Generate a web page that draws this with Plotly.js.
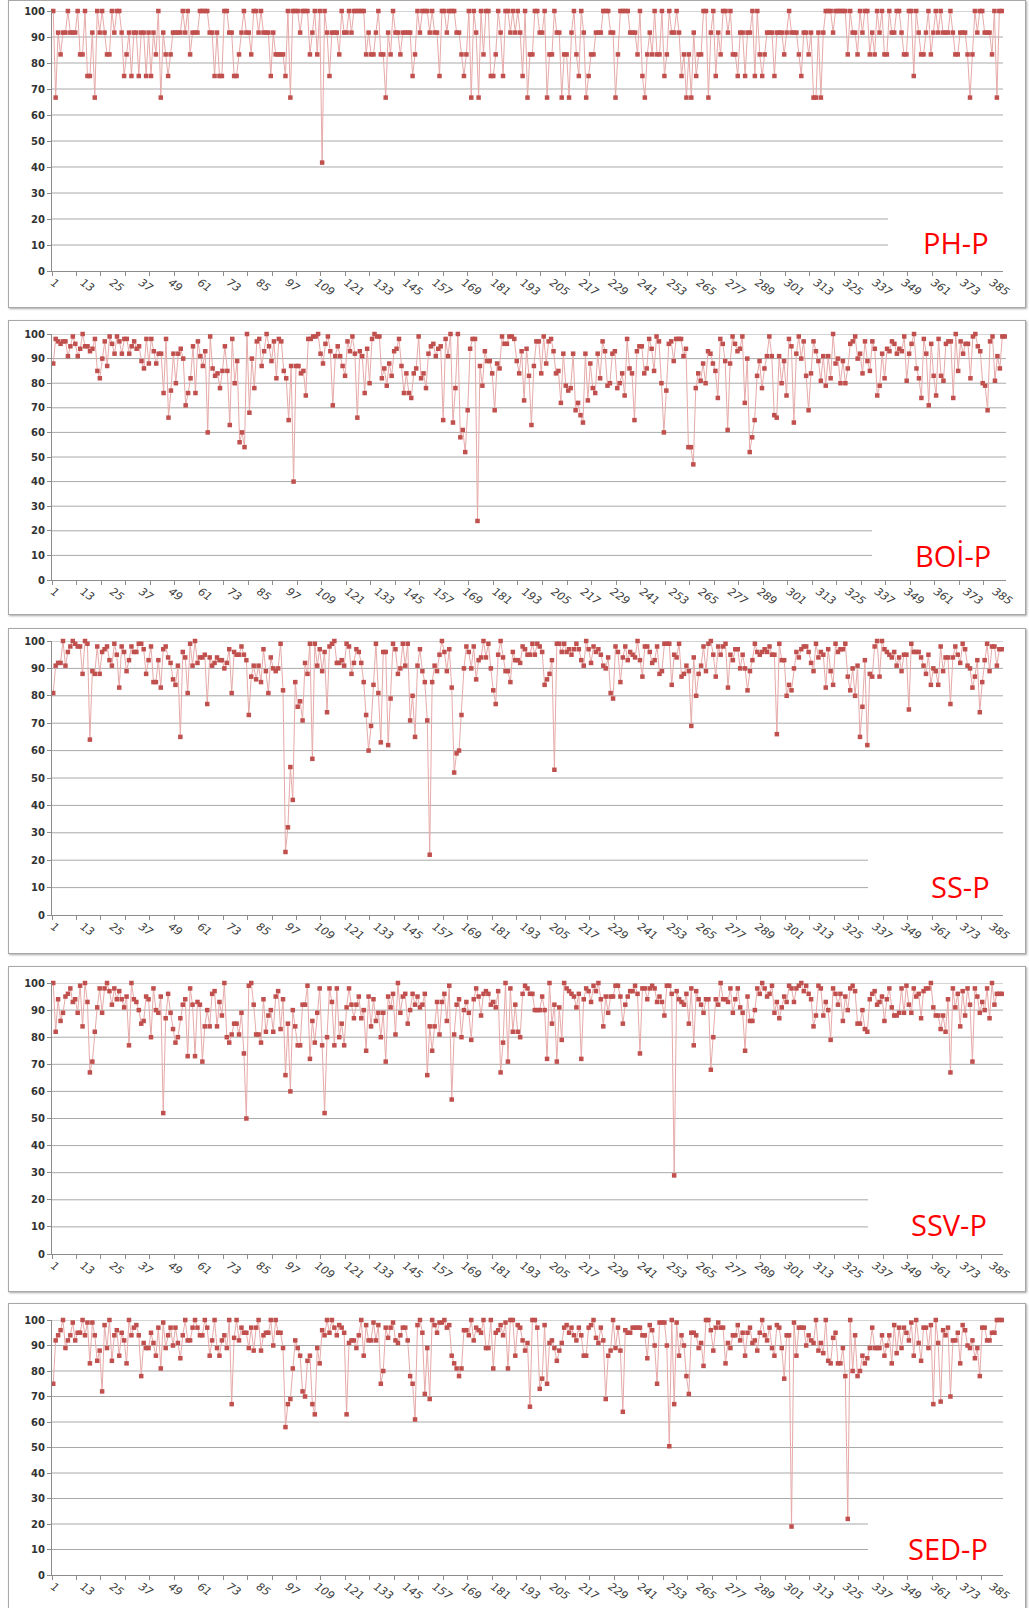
<!DOCTYPE html>
<html><head><meta charset="utf-8">
<script src="https://cdn.plot.ly/plotly-3.0.1.min.js"></script>
<style>
html,body{margin:0;padding:0;background:#fff;width:1029px;height:1608px;overflow:hidden;position:relative}
.frame{position:absolute;left:8px;width:1016px;border:1px solid #a8a8a8;box-shadow:1px 1px 2px rgba(0,0,0,0.35);background:#fff}
.plot{position:absolute;left:0;width:1029px}
</style></head><body>
<script>
// ---- data (values in %) ----
const phP = [
100,66.7,91.7,83.3,91.7,91.7,100,91.7,91.7,91.7,
100,83.3,83.3,100,75,75,91.7,66.7,100,91.7,
100,91.7,83.3,83.3,100,91.7,100,100,91.7,75,
83.3,91.7,75,91.7,91.7,75,91.7,91.7,75,91.7,
75,91.7,83.3,100,66.7,91.7,83.3,75,83.3,91.7,
91.7,91.7,91.7,100,91.7,100,83.3,91.7,91.7,91.7,
100,100,100,100,91.7,91.7,75,91.7,75,75,
100,100,91.7,91.7,75,75,83.3,91.7,100,91.7,
91.7,83.3,100,100,91.7,100,91.7,91.7,91.7,75,
91.7,83.3,83.3,83.3,83.3,75,100,66.7,100,100,
100,91.7,100,100,100,83.3,91.7,100,83.3,100,
41.7,100,91.7,75,91.7,91.7,91.7,83.3,100,91.7,
91.7,100,91.7,100,100,100,100,100,83.3,91.7,
83.3,83.3,91.7,100,83.3,83.3,66.7,91.7,83.3,100,
91.7,91.7,83.3,91.7,91.7,91.7,91.7,75,83.3,100,
91.7,100,100,100,91.7,100,91.7,91.7,75,100,
100,91.7,100,100,100,91.7,91.7,83.3,75,83.3,
100,66.7,100,91.7,66.7,100,83.3,100,100,75,
75,83.3,100,91.7,75,100,100,91.7,100,91.7,
100,91.7,75,100,66.7,83.3,83.3,100,100,91.7,
91.7,100,66.7,83.3,83.3,100,91.7,91.7,66.7,83.3,
83.3,66.7,91.7,100,83.3,75,100,91.7,66.7,75,
83.3,83.3,91.7,91.7,91.7,100,100,100,91.7,91.7,
66.7,83.3,100,100,100,100,91.7,91.7,91.7,83.3,
100,75,66.7,83.3,91.7,83.3,100,83.3,83.3,100,
75,83.3,100,91.7,91.7,100,91.7,75,83.3,66.7,
83.3,66.7,91.7,75,83.3,83.3,100,100,66.7,91.7,
100,75,91.7,83.3,100,100,91.7,100,83.3,83.3,
75,91.7,91.7,75,91.7,91.7,100,75,100,83.3,
75,83.3,91.7,91.7,91.7,75,91.7,91.7,91.7,83.3,
91.7,100,91.7,91.7,91.7,83.3,75,91.7,91.7,83.3,
91.7,66.7,66.7,91.7,66.7,91.7,100,100,100,91.7,
100,100,100,100,100,83.3,100,91.7,91.7,83.3,
100,91.7,100,100,83.3,91.7,83.3,100,91.7,100,
83.3,83.3,100,91.7,91.7,100,100,91.7,83.3,83.3,
100,100,75,100,91.7,83.3,83.3,91.7,100,83.3,
91.7,100,91.7,100,91.7,91.7,91.7,100,91.7,83.3,
83.3,91.7,91.7,91.7,83.3,66.7,83.3,100,91.7,100,
100,91.7,91.7,91.7,83.3,100,66.7,100,100];

const boiP = [
88,98,97,96,97,97,91,95,99,96,
91,94,100,95,95,93,94,98,85,82,
90,97,87,99,96,92,99,97,92,98,
98,92,95,97,94,95,89,86,98,88,
98,93,88,92,92,76,98,66,77,92,
80,92,94,90,71,76,82,95,76,97,
91,87,93,60,99,86,83,84,78,85,
95,85,63,98,80,89,56,60,54,100,
68,90,78,97,98,87,93,100,95,89,
97,82,98,97,85,82,65,87,40,87,
87,84,85,75,98,98,99,99,100,92,
88,96,99,93,71,91,95,91,87,83,
97,93,99,92,66,93,91,76,94,80,
98,100,99,99,82,86,79,88,83,93,
94,98,87,76,84,76,74,84,86,99,
82,84,78,92,95,96,91,94,95,65,
98,91,100,64,78,100,58,61,52,69,
94,98,98,24,87,79,93,89,89,84,
69,88,86,99,96,96,99,99,98,89,
84,93,73,94,83,63,87,97,97,84,
99,88,97,98,93,84,85,72,92,79,
77,78,92,69,72,67,64,92,73,88,
78,76,92,82,97,93,79,80,92,93,
78,80,84,75,98,86,84,65,93,95,
95,84,86,98,94,85,99,97,80,60,
77,96,97,89,98,98,98,91,94,54,
54,47,78,84,81,88,80,93,92,88,
85,74,98,96,89,61,88,99,96,93,
94,99,72,90,52,58,65,83,89,78,
86,91,99,91,67,66,91,80,89,75,
98,95,64,92,99,90,97,83,69,84,
97,93,89,81,91,79,91,82,100,88,
90,80,89,80,86,96,97,99,90,92,
84,97,89,85,97,94,75,79,92,82,
94,93,97,96,92,94,93,99,81,92,
96,100,86,82,74,98,92,71,96,83,
75,98,83,81,96,97,97,74,100,85,
97,92,96,96,82,99,100,95,93,80,
79,69,97,99,81,91,86,99,99];

const ssP = [
81,91,92,92,100,91,96,98,100,99,
98,98,88,100,99,64,89,88,98,88,
96,97,98,93,91,99,95,83,98,96,
89,93,98,96,96,99,99,97,88,93,
98,85,85,93,83,97,98,94,92,86,
84,91,65,96,94,81,99,91,100,92,
94,94,95,77,94,91,92,94,93,93,
90,92,97,81,96,95,95,98,95,93,
73,87,91,86,91,85,97,89,81,94,
90,89,90,99,82,23,32,54,42,85,
76,78,71,92,88,99,57,99,91,97,
89,96,74,98,99,100,92,92,93,91,
99,98,88,92,97,96,92,85,73,60,
69,84,99,81,63,96,96,62,79,99,
97,88,90,99,91,99,71,80,65,91,
97,89,85,71,22,85,91,89,95,100,
96,89,97,83,52,59,60,73,90,98,
96,90,98,86,93,94,100,94,99,90,
82,77,95,100,94,89,89,85,96,93,
93,92,98,97,95,95,99,95,99,98,
96,84,86,88,93,53,99,99,96,99,
96,97,95,97,99,97,93,91,100,97,
92,98,96,97,95,91,90,94,81,79,
98,96,85,94,98,93,96,95,94,100,
93,87,98,98,96,92,93,98,88,89,
99,99,99,84,95,94,99,87,88,91,
89,69,94,80,88,91,98,89,99,100,
95,87,98,95,98,99,83,95,93,97,
97,90,95,90,82,89,93,99,96,95,
96,97,96,98,95,95,66,99,93,93,
80,84,82,90,96,94,97,98,98,96,
92,89,99,94,96,95,83,97,89,84,
99,96,97,97,99,87,82,90,80,91,
65,76,93,62,88,87,98,100,87,100,
97,96,95,94,96,91,94,89,95,95,
75,99,96,96,96,94,91,88,95,84,
90,89,84,98,89,94,94,77,94,98,
95,92,99,97,91,90,83,87,93,74,
85,93,99,89,98,98,91,97,97];

const ssvP = [
100,82,94,86,89,95,96,98,93,94,
89,99,84,100,93,67,71,82,91,98,
89,98,100,97,92,98,94,97,94,91,
95,77,100,94,93,90,85,86,95,94,
80,98,90,89,95,52,87,96,89,83,
78,80,87,92,94,73,98,92,73,93,
92,71,84,90,84,96,97,84,93,88,
100,80,78,81,85,85,81,89,74,50,
99,100,92,81,81,78,94,82,88,90,
82,95,97,83,94,66,85,60,90,84,
77,77,92,92,99,72,86,78,89,98,
77,52,80,98,93,77,98,80,85,77,
91,98,92,87,92,95,87,90,75,95,
84,94,86,89,80,89,71,95,91,96,
81,100,89,95,96,85,90,96,92,95,
91,92,96,66,84,75,84,93,81,93,
96,86,99,57,81,92,94,80,90,93,
89,79,94,98,95,88,96,97,96,92,
93,91,97,67,78,100,71,98,82,92,
82,80,96,99,98,96,96,90,90,90,
95,90,72,100,85,92,71,91,79,100,
98,97,96,95,91,96,72,94,98,97,
93,99,97,100,94,84,95,89,95,95,
99,99,95,85,92,95,97,97,99,96,
74,98,98,94,98,99,98,93,95,93,
88,99,99,96,29,97,94,93,92,96,
85,98,77,97,94,92,89,94,94,68,
80,94,92,100,94,94,93,98,89,94,
98,91,89,75,95,86,86,90,98,96,
100,98,95,96,99,89,93,87,91,95,
93,99,98,93,98,99,100,97,99,96,
94,84,88,99,98,88,93,90,79,98,
96,92,96,86,95,90,98,99,97,85,
85,90,83,82,94,96,97,92,93,95,
86,94,98,91,88,88,89,98,89,99,
92,89,98,95,96,87,97,98,98,100,
91,88,88,83,88,82,94,67,98,91,
96,84,97,88,98,92,71,98,95,89,
93,90,98,87,100,92,96,96,96];

const sedP = [
75,92,94,96,100,89,92,94,99,92,
95,95,100,94,99,83,99,94,84,88,
72,98,89,100,84,94,96,86,95,92,
83,100,94,97,98,94,78,91,89,89,
95,91,86,97,81,99,89,94,97,90,
97,91,85,94,100,92,92,97,100,97,
94,94,100,97,86,92,100,89,86,92,
94,89,100,67,93,100,92,97,95,95,
89,97,88,97,100,88,94,95,95,100,
90,100,95,95,89,58,67,69,81,92,
89,86,72,70,84,86,67,63,89,83,
96,94,100,95,100,97,94,98,97,95,
63,91,92,92,89,94,100,86,98,92,
92,99,92,98,75,80,97,93,97,99,
92,91,94,97,97,92,78,75,61,98,
100,95,71,89,69,100,98,95,99,99,
100,97,98,86,83,81,78,81,96,96,
94,100,92,97,96,95,100,89,89,100,
81,95,96,98,94,99,81,100,100,86,
98,97,92,88,91,66,100,100,97,73,
77,98,75,91,92,89,84,88,91,97,
98,95,97,94,92,97,94,86,86,97,
98,100,93,91,97,92,69,86,88,100,
89,97,88,64,96,95,95,97,97,97,
97,94,94,85,98,96,90,75,99,99,
99,90,50.5,100,67,99,86,94,90,78,
71,95,95,94,89,91,82,100,100,96,
88,97,99,97,97,83,91,89,94,94,
98,92,95,86,95,97,91,92,88,95,
100,94,92,97,89,86,98,97,89,77,
94,94,19,99,86,97,97,97,90,94,
92,91,100,88,91,87,100,84,83,93,
95,83,83,89,78,22,100,80,94,78,
80,86,83,85,89,97,89,89,89,94,
86,90,94,83,98,87,97,89,97,95,
92,99,86,100,91,84,97,97,89,98,
67,100,91,68,96,94,97,70,92,92,
95,83,98,96,90,89,92,85,89,78,
97,97,92,92,95,95,100,100,100];

const seriesNames = ['PH-P', 'BOİ-P', 'SS-P', 'SSV-P', 'SED-P'];
const seriesValues = [phP, boiP, ssP, ssvP, sedP];
const yTickValues = [0,10,20,30,40,50,60,70,80,90,100];

// ---- layout (page pixel geometry) ----
const W = 1029, PL = 52;
const geo = [
  {frameTop:0,    frameBottom:306,  plotTop:11,   plotBottom:271,  plotRight:1003, gridCut:888, labelX:956, labelY:243},
  {frameTop:320,  frameBottom:613,  plotTop:334,  plotBottom:580,  plotRight:1006, gridCut:872, labelX:953, labelY:555},
  {frameTop:628,  frameBottom:952,  plotTop:641,  plotBottom:915,  plotRight:1003, gridCut:868, labelX:960, labelY:886},
  {frameTop:966,  frameBottom:1290, plotTop:983,  plotBottom:1254, plotRight:1003, gridCut:868, labelX:949, labelY:1224},
  {frameTop:1303, frameBottom:1612, plotTop:1320, plotBottom:1575, plotRight:1003, gridCut:868, labelX:948, labelY:1548}
];

seriesValues.forEach((vals, i) => {
  const g = geo[i];
  const fr = document.createElement('div');
  fr.className = 'frame';
  fr.style.top = g.frameTop + 'px';
  fr.style.height = (g.frameBottom - g.frameTop) + 'px';
  document.body.appendChild(fr);

  const H = Math.min(g.frameBottom, 1608) - g.frameTop;
  const d = document.createElement('div');
  d.className = 'plot';
  d.style.top = g.frameTop + 'px';
  d.style.height = H + 'px';
  document.body.appendChild(d);

  const N = vals.length;
  const categories = vals.map((v, k) => k + 1);
  const plotW = g.plotRight - PL, plotH = g.plotBottom - g.plotTop;

  const shapes = yTickValues.filter(v => v > 0).map(v => ({
    type:'line', xref:'paper', yref:'y', layer:'below',
    x0:0, x1: v <= 20 ? (g.gridCut - PL) / plotW : 1, y0:v, y1:v,
    line:{color:'#a9a9a9', width:1}
  }));

  const traces = [
    {x:categories, y:vals, type:'scatter', mode:'lines+markers',
     line:{color:'#e6aaa9', width:1},
     marker:{symbol:'square', size:4.5, color:'#c0504d', line:{width:0}},
     cliponaxis:false, hoverinfo:'skip', showlegend:false},
    {x:[], y:[], xaxis:'x2', type:'scatter', mode:'markers', hoverinfo:'skip', showlegend:false}
  ];

  const layout = {
    width:W, height:H,
    margin:{l:PL, r:W - g.plotRight, t:g.plotTop - g.frameTop, b:Math.min(g.frameBottom,1608) - g.plotBottom, pad:0},
    paper_bgcolor:'rgba(0,0,0,0)', plot_bgcolor:'rgba(0,0,0,0)',
    showlegend:false,
    xaxis:{type:'linear', range:[0.5, N + 0.5], tick0:1, dtick:12, ticks:'', tickangle:35,
           showline:true, linecolor:'#8c8c8c', linewidth:1, showgrid:false, zeroline:false,
           tickfont:{family:'DejaVu Sans', size:11, style:'italic', color:'#3a3a3a'}, fixedrange:true},
    xaxis2:{type:'linear', overlaying:'x', anchor:'y', side:'bottom', range:[0.5, N + 0.5],
            tick0:0.5, dtick:10, ticks:'outside', ticklen:4, tickcolor:'#8c8c8c', tickwidth:1,
            showticklabels:false, showline:false, showgrid:false, zeroline:false, fixedrange:true},
    yaxis:{range:[0,100], tickvals:yTickValues, ticks:'outside', ticklen:4, tickcolor:'#8c8c8c',
           showline:true, linecolor:'#8c8c8c', linewidth:1, showgrid:false, zeroline:false,
           tickfont:{family:'DejaVu Sans', size:10, weight:'bold', color:'#333'}, fixedrange:true},
    shapes:shapes,
    annotations:[{
      text:seriesNames[i], xref:'paper', yref:'paper',
      x:(g.labelX - PL) / plotW, y:(g.plotBottom - g.labelY) / plotH,
      xanchor:'center', yanchor:'middle', showarrow:false,
      font:{family:'Open Sans', size:29, color:'#ff0000'}
    }]
  };
  Plotly.newPlot(d, traces, layout, {staticPlot:true, displayModeBar:false});
});
</script>
</body></html>
